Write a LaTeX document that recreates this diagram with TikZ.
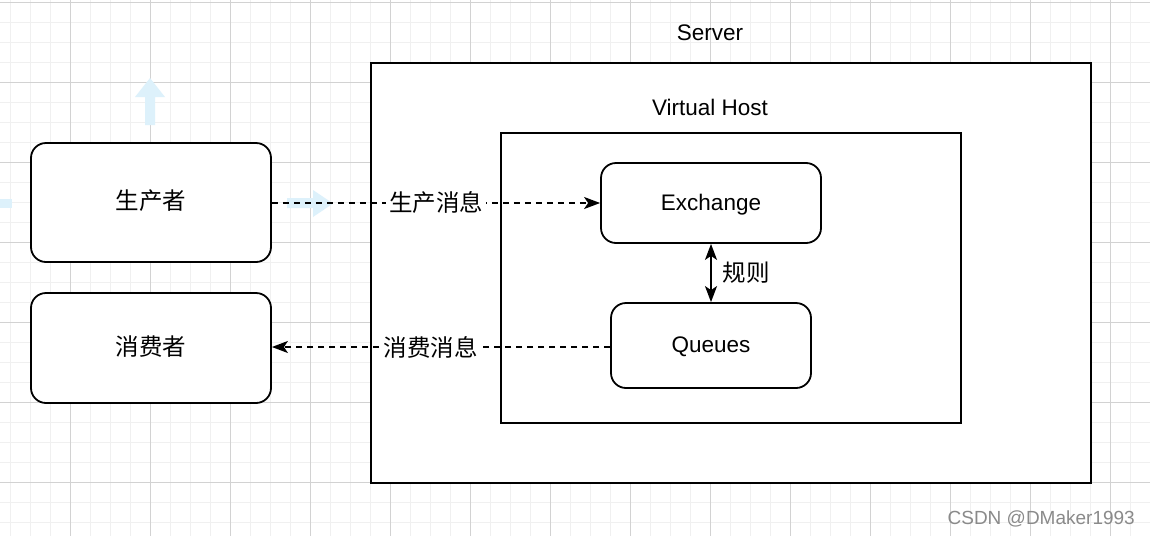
\documentclass[tikz,border=0pt]{standalone}
\usepackage{fontspec}
\setmainfont{Liberation Sans}
\newfontfamily\cjk{Noto Sans CJK SC}
\usetikzlibrary{arrows.meta}
\definecolor{gridminor}{HTML}{F0F0F0}
\definecolor{gridmajor}{HTML}{D2D2D2}
\definecolor{handle}{HTML}{DDF1FB}
\definecolor{wmark}{HTML}{8A8A8A}
\tikzset{
  rbox/.style={draw=black, line width=1.8pt, fill=white, rounded corners=15pt, inner sep=0pt, text height=18pt, text depth=4pt, font=\fontsize{22.5}{26}\selectfont},
  cjkbox/.style={font=\cjk\fontsize{23.5}{26}\selectfont},
  sbox/.style={draw=black, line width=1.8pt, fill=white, inner sep=0pt},
  title/.style={font=\fontsize{22.5}{26}\selectfont, inner sep=0pt, anchor=base},
  flow/.style={line width=1.6pt, dash pattern=on 6pt off 5pt},
  tip/.style={-{Stealth[length=16pt,width=12pt,inset=4pt]}},
  lbl/.style={fill=white, inner sep=3pt, font=\cjk\fontsize{23.5}{26}\selectfont},
}
\begin{document}
\begin{tikzpicture}[x=1pt,y=-1pt]
\useasboundingbox (0,0) rectangle (1150,536);
\fill[white] (0,0) rectangle (1150,536);
% grid
\foreach \x in {10,30,...,1150} \draw[gridminor, line width=1pt] (\x,0) -- (\x,536);
\foreach \y in {2,22,...,536} \draw[gridminor, line width=1pt] (0,\y) -- (1150,\y);
\foreach \x in {70,150,...,1150} \draw[gridmajor, line width=1pt] (\x,0) -- (\x,536);
\foreach \y in {2,82,...,536} \draw[gridmajor, line width=1pt] (0,\y) -- (1150,\y);
% faint handles
\fill[handle] (145,125) -- (145,97) -- (135,97) -- (150,78) -- (165,97) -- (155,97) -- (155,125) -- cycle;
\fill[handle] (287,198) -- (313,198) -- (313,190) -- (333,203.5) -- (313,217) -- (313,208) -- (287,208) -- cycle;
\fill[handle] (0,199) rectangle (12,208);
% containers
\node[sbox, minimum width=720pt, minimum height=420pt] (server) at (731,273) {};
\node[title] (serverlbl) at (710,40) {Server};
\node[sbox, minimum width=460pt, minimum height=290pt] (vhost) at (731,278) {};
\node[title] (vhostlbl) at (710,115) {Virtual Host};
% boxes
\node[rbox, cjkbox, minimum width=240pt, minimum height=119pt] (prod) at (151,202.5) {生产者};
\node[rbox, cjkbox, minimum width=240pt, minimum height=110pt] (cons) at (151,348) {消费者};
\node[rbox, minimum width=220pt, minimum height=80pt] (exch) at (711,203) {Exchange};
\node[rbox, minimum width=200pt, minimum height=85pt] (queue) at (711,345.5) {Queues};
% connectors
\draw[flow, tip] (prod.east |- 0,203) -- node[lbl, pos=0.5] {生产消息} (exch.west |- 0,203);
\draw[flow, tip] (queue.west |- 0,347) -- node[lbl, pos=0.53] {消费消息} (cons.east |- 0,347);
\draw[line width=1.6pt, {Stealth[length=16pt,width=12pt,inset=4pt]}-{Stealth[length=16pt,width=12pt,inset=4pt]}] (exch.south) -- node[lbl, right, fill=none, inner sep=11pt] {规则} (queue.north);
% watermark
\node[text=wmark, font=\fontsize{19}{21}\selectfont, inner sep=0pt, anchor=east] (wm) at (1135,519) {CSDN @DMaker1993};
\end{tikzpicture}
\end{document}
